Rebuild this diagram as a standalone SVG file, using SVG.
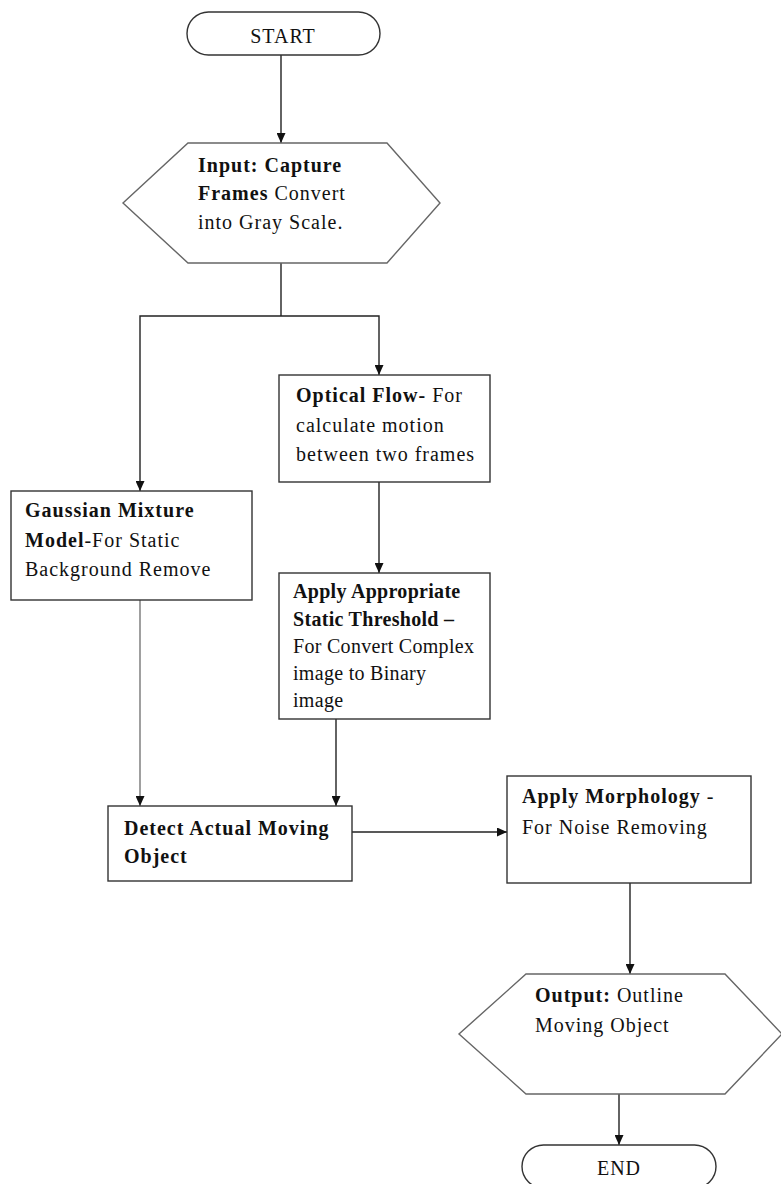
<svg xmlns="http://www.w3.org/2000/svg" width="781" height="1184" viewBox="0 0 781 1184">
<defs>
<marker id="ah" markerWidth="10" markerHeight="9" refX="10" refY="4.5" orient="auto" markerUnits="userSpaceOnUse">
<path d="M0,0 L10,4.5 L0,9 z" fill="#111"/>
</marker>
<style>
.t{font-family:"Times New Roman","Liberation Serif","DejaVu Serif",serif;font-size:20px;letter-spacing:1px;fill:#111}
.c{letter-spacing:0.3px}
.b{font-weight:bold}
.box{fill:#fff;stroke:#333;stroke-width:1.4}
.hex{fill:#fff;stroke:#666;stroke-width:1.4}
.ln{fill:none;stroke:#222;stroke-width:1.4}
.ar{fill:none;stroke:#222;stroke-width:1.4;marker-end:url(#ah)}
</style>
</defs>
<rect width="781" height="1184" fill="#fff"/>
<g id="connectors">
<line class="ar" x1="281" y1="55" x2="281" y2="143"/>
<polyline class="ln" points="281,263 281,316"/>
<polyline class="ar" points="281,316 140,316 140,491"/>
<polyline class="ar" points="281,316 379,316 379,375"/>
<line class="ar" x1="379" y1="482" x2="379" y2="573"/>
<line class="ar" x1="140" y1="600" x2="140" y2="806" style="stroke:#777"/>
<line class="ar" x1="336" y1="719" x2="336" y2="806"/>
<line class="ar" x1="352" y1="832" x2="507" y2="832"/>
<line class="ar" x1="630" y1="883" x2="630" y2="974"/>
<line class="ar" x1="619" y1="1094" x2="619" y2="1145"/>
</g>
<g id="start">
<rect class="box" x="187" y="12" width="193" height="43" rx="21.5"/>
<text class="t" x="283" y="43" text-anchor="middle">START</text>
</g>
<g id="input">
<polygon class="hex" points="188,143 387,143 440,203 387,263 188,263 123,203"/>
<text class="t" x="198" y="172"><tspan class="b">Input: Capture</tspan></text>
<text class="t" x="198" y="200"><tspan class="b">Frames</tspan> Convert</text>
<text class="t" x="198" y="229">into Gray Scale.</text>
</g>
<g id="optical">
<rect class="box" x="279" y="375" width="211" height="107"/>
<text class="t" x="296" y="402"><tspan class="b">Optical Flow-</tspan> For</text>
<text class="t" x="296" y="432">calculate motion</text>
<text class="t" x="296" y="461">between two frames</text>
</g>
<g id="gaussian">
<rect class="box" x="11" y="491" width="241" height="109"/>
<text class="t" x="25" y="517"><tspan class="b">Gaussian Mixture</tspan></text>
<text class="t" x="25" y="547"><tspan class="b">Model</tspan>-For Static</text>
<text class="t" x="25" y="576">Background Remove</text>
</g>
<g id="threshold">
<rect class="box" x="279" y="573" width="211" height="146"/>
<text class="t c" x="293" y="598"><tspan class="b">Apply Appropriate</tspan></text>
<text class="t c" x="293" y="626"><tspan class="b">Static Threshold –</tspan></text>
<text class="t c" x="293" y="653">For Convert Complex</text>
<text class="t c" x="293" y="680">image to Binary</text>
<text class="t c" x="293" y="707">image</text>
</g>
<g id="detect">
<rect class="box" x="108" y="806" width="244" height="75"/>
<text class="t b" x="124" y="835">Detect Actual Moving</text>
<text class="t b" x="124" y="863">Object</text>
</g>
<g id="morphology">
<rect class="box" x="507" y="776" width="244" height="107"/>
<text class="t" x="522" y="803"><tspan class="b">Apply Morphology</tspan> -</text>
<text class="t" x="522" y="834">For Noise Removing</text>
</g>
<g id="output">
<polygon class="hex" points="526,974 725,974 782,1034 725,1094 526,1094 459,1034"/>
<text class="t" x="535" y="1002"><tspan class="b">Output:</tspan> Outline</text>
<text class="t" x="535" y="1032">Moving Object</text>
</g>
<g id="end">
<rect class="box" x="522" y="1145" width="194" height="43" rx="21.5"/>
<text class="t" x="619" y="1175" text-anchor="middle">END</text>
</g>
</svg>
